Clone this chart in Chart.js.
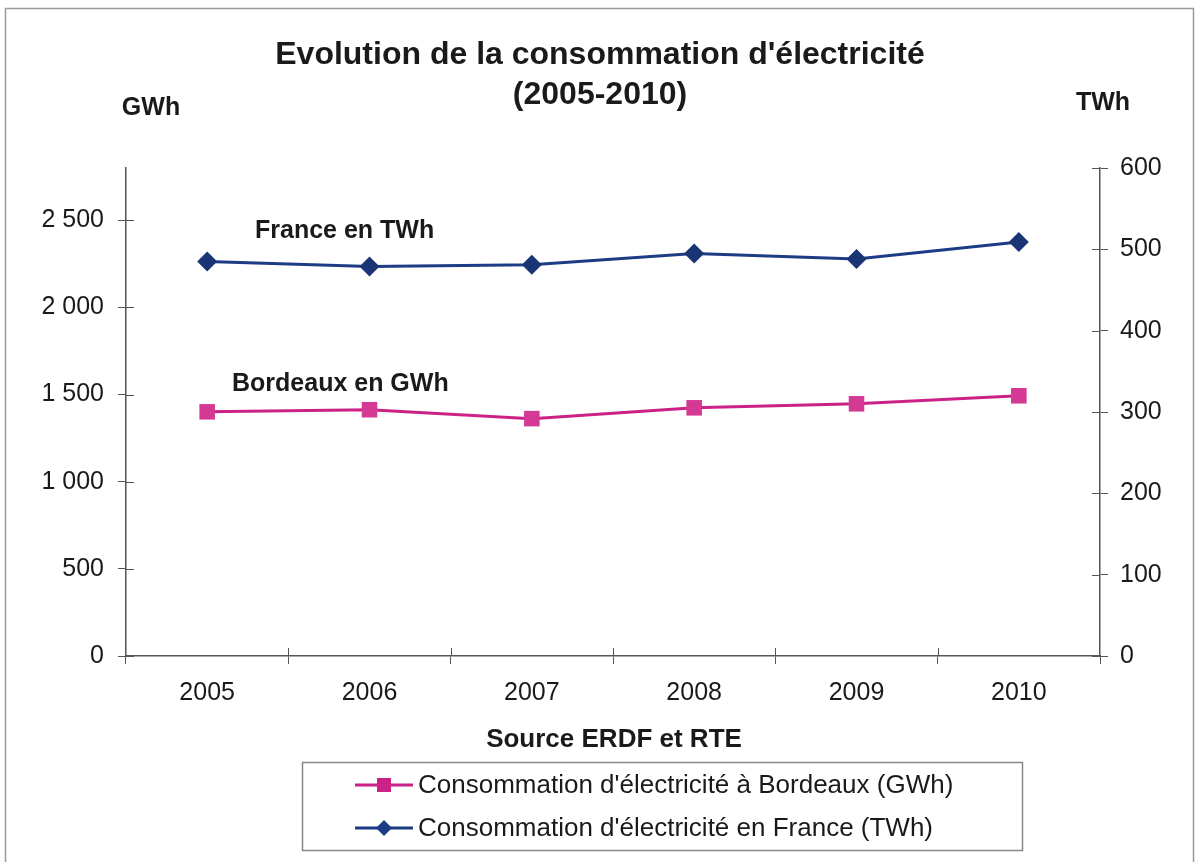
<!DOCTYPE html>
<html lang="fr">
<head>
    <meta charset="UTF-8">
    <title>Evolution de la consommation d'électricité</title>
    <script src="https://cdn.jsdelivr.net/npm/chart.js"></script>
    <style>
        body { margin: 0; background: #fff; }
        .chart-container { width: 1196px; height: 862px; }
    </style>
</head>
<body>
    <div class="chart-container">
        <canvas id="grafico" width="1196" height="862"></canvas>
    </div>

    <script>
        // Données
        const annees = ['2005', '2006', '2007', '2008', '2009', '2010'];
        const bordeauxGWh = [1401, 1413, 1362, 1424, 1447, 1493];
        const franceTWh = [485, 479, 481, 495, 488, 509];
        const ticksGWh = [0, 500, 1000, 1500, 2000, 2500];
        const ticksTWh = [0, 100, 200, 300, 400, 500, 600];

        const couleurBordeaux = '#cc2288';
        const couleurFrance = '#1c3c86';
        const police = '"Liberation Sans", Arial, sans-serif';
        const texte = '#1a1a1a';
        const axe = '#555';

        function milliers(v) {
            return String(v).replace(/\B(?=(\d{3})+(?!\d))/g, ' ');
        }

        // Titres, annotations, légende encadrée et graduations croisées
        const decor = {
            id: 'decor',
            afterDraw(chart) {
                const c = chart.ctx;
                c.save();
                // cadre
                c.strokeStyle = '#999';
                c.lineWidth = 1.5;
                c.strokeRect(5.5, 8.5, 1188, 870);

                c.fillStyle = texte;
                c.textAlign = 'center';
                c.textBaseline = 'middle';
                c.font = 'bold 32px ' + police;
                c.fillText("Evolution de la consommation d'électricité", 600, 55);
                c.fillText('(2005-2010)', 600, 95);

                c.font = 'bold 25px ' + police;
                c.fillText('GWh', 151, 108);
                c.fillText('TWh', 1103, 103);
                c.font = 'bold 26px ' + police;
                c.fillText('Source ERDF et RTE', 614, 740);

                c.font = 'bold 25px ' + police;
                c.textAlign = 'left';
                c.fillText('France en TWh', 255, 231);
                c.fillText('Bordeaux en GWh', 232, 384);

                // graduations vers l'intérieur
                c.strokeStyle = axe;
                c.lineWidth = 1;
                const a = chart.chartArea;
                const yl = chart.scales.y, yr = chart.scales.y1, x = chart.scales.x;
                c.beginPath();
                yl.ticks.forEach(t => {
                    const p = Math.round(yl.getPixelForValue(t.value)) + 0.5;
                    c.moveTo(a.left, p); c.lineTo(a.left + 8, p);
                });
                yr.ticks.forEach(t => {
                    const p = Math.round(yr.getPixelForValue(t.value)) + 0.5;
                    c.moveTo(a.right, p); c.lineTo(a.right - 8, p);
                });
                for (let i = 1; i < annees.length; i++) {
                    const p = Math.round((x.getPixelForTick(i - 1) + x.getPixelForTick(i)) / 2) + 0.5;
                    c.moveTo(p, a.bottom); c.lineTo(p, a.bottom - 8);
                }
                c.stroke();

                // légende
                c.strokeStyle = '#888';
                c.lineWidth = 1.5;
                c.strokeRect(302.5, 762.5, 720, 88);
                const items = [
                    { label: chart.data.datasets[0].label, couleur: couleurBordeaux, y: 785, forme: 'carre' },
                    { label: chart.data.datasets[1].label, couleur: couleurFrance, y: 828, forme: 'losange' }
                ];
                items.forEach(it => {
                    c.strokeStyle = it.couleur;
                    c.lineWidth = 3;
                    c.beginPath();
                    c.moveTo(355, it.y); c.lineTo(413, it.y);
                    c.stroke();
                    c.fillStyle = it.couleur;
                    c.beginPath();
                    if (it.forme === 'carre') {
                        c.rect(377, it.y - 7, 14, 14);
                    } else {
                        c.moveTo(384, it.y - 8); c.lineTo(392, it.y);
                        c.lineTo(384, it.y + 8); c.lineTo(376, it.y);
                        c.closePath();
                    }
                    c.fill();
                    c.fillStyle = texte;
                    c.font = '26px ' + police;
                    c.textAlign = 'left';
                    c.fillText(it.label, 418, it.y + 1);
                });
                c.restore();
            }
        };

        const ctx = document.getElementById('grafico').getContext('2d');
        const chart = new Chart(ctx, {
            type: 'line',
            data: {
                labels: annees,
                datasets: [{
                    label: "Consommation d'électricité à Bordeaux (GWh)",
                    data: bordeauxGWh,
                    yAxisID: 'y',
                    borderColor: couleurBordeaux,
                    backgroundColor: '#d43a94',
                    borderWidth: 3,
                    pointStyle: 'rect',
                    pointRadius: 11,
                    pointBorderWidth: 0,
                    tension: 0
                }, {
                    label: "Consommation d'électricité en France (TWh)",
                    data: franceTWh,
                    yAxisID: 'y1',
                    borderColor: couleurFrance,
                    backgroundColor: '#1a3575',
                    borderWidth: 3,
                    pointStyle: 'rectRot',
                    pointRadius: 10,
                    pointBorderWidth: 0,
                    tension: 0
                }]
            },
            options: {
                responsive: false,
                animation: false,
                layout: { padding: { top: 168, left: 0, right: 0, bottom: 0 } },
                plugins: {
                    legend: { display: false },
                    title: { display: false },
                    tooltip: { enabled: false }
                },
                scales: {
                    x: {
                        offset: true,
                        grid: { offset: true, drawOnChartArea: false, tickLength: 8, color: axe },
                        border: { color: axe, width: 1.5 },
                        ticks: { color: texte, font: { family: police, size: 25 }, padding: 14, maxRotation: 0 },
                        afterFit(s) { s.height = 206; }
                    },
                    y: {
                        position: 'left',
                        min: 0,
                        max: 2800,
                        grid: { drawOnChartArea: false, tickLength: 8, color: axe },
                        border: { color: axe, width: 1.5 },
                        ticks: {
                            color: texte,
                            font: { family: police, size: 25 },
                            padding: 14,
                            callback: v => milliers(v)
                        },
                        afterBuildTicks(s) { s.ticks = ticksGWh.map(v => ({ value: v })); },
                        afterFit(s) { s.width = 126; }
                    },
                    y1: {
                        position: 'right',
                        min: 0,
                        max: 600,
                        grid: { drawOnChartArea: false, tickLength: 8, color: axe },
                        border: { color: axe, width: 1.5 },
                        ticks: {
                            color: texte,
                            font: { family: police, size: 25 },
                            padding: 12
                        },
                        afterBuildTicks(s) { s.ticks = ticksTWh.map(v => ({ value: v })); },
                        afterFit(s) { s.width = 96; }
                    }
                }
            },
            plugins: [decor]
        });
    </script>
</body>
</html>
